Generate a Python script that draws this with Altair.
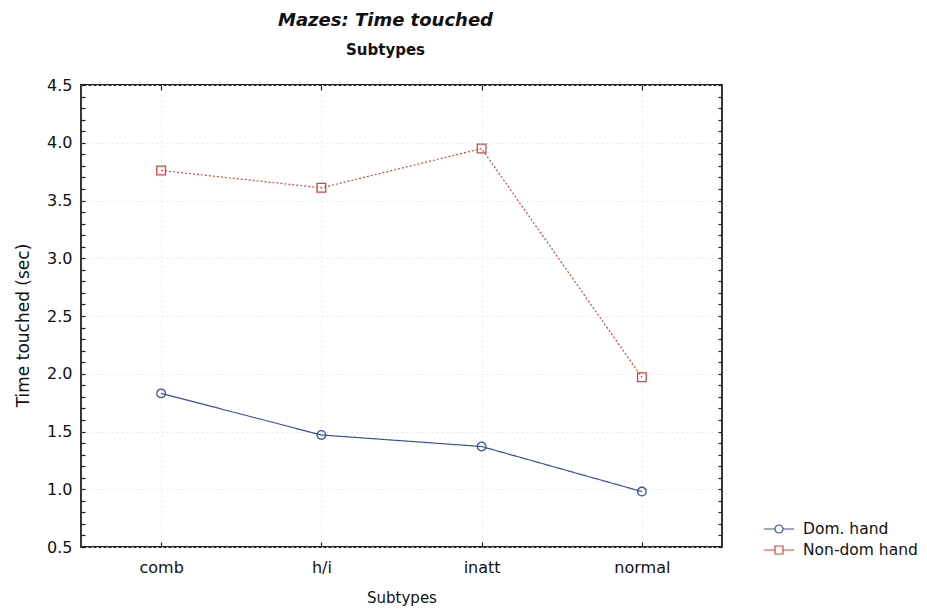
import altair as alt
import pandas as pd

# Mean time touched per subtype, for each hand
subtypes = ["comb", "h/i", "inatt", "normal"]
dom_hand = [1.83, 1.47, 1.37, 0.98]
nondom_hand = [3.76, 3.61, 3.95, 1.97]
series_names = ["Dom. hand", "Non-dom hand"]
series_colors = ["#3d4f9c", "#d4463c"]
y_major = [0.5, 1.0, 1.5, 2.0, 2.5, 3.0, 3.5, 4.0, 4.5]
y_minor = [round(0.5 + 0.1 * i, 1) for i in range(41)]

rows = []
for name, vals in zip(series_names, [dom_hand, nondom_hand]):
    for s, v in zip(subtypes, vals):
        rows.append({"subtype": s, "time": v, "hand": name})
df = pd.DataFrame(rows)

W, H = 641, 462
FONT = "DejaVu Sans"

x_scale = alt.Scale(domain=subtypes, padding=0.5)
y_scale = alt.Scale(domain=[0.5, 4.5], nice=False, zero=False)
color_scale = alt.Scale(domain=series_names, range=series_colors)

base = alt.Chart(df)

# Lines, with the labelled axes and the faint dotted grid
lines = base.mark_line(strokeWidth=1.2).encode(
    x=alt.X("subtype:N", scale=x_scale, sort=subtypes,
            axis=alt.Axis(title="Subtypes", labelAngle=0, ticks=False, tickSize=0,
                          domain=False, grid=True, labelPadding=12, titlePadding=15,
                          labelFontSize=16, titleFontSize=15)),
    y=alt.Y("time:Q", scale=y_scale,
            axis=alt.Axis(title="Time touched (sec)", values=y_major, format=".1f",
                          ticks=False, tickSize=0, domain=False, grid=True,
                          labelPadding=9, titlePadding=14, titleY=240,
                          labelFontSize=16, titleFontSize=17)),
    color=alt.Color("hand:N", scale=color_scale, legend=None),
    strokeDash=alt.StrokeDash("hand:N", scale=alt.Scale(domain=series_names,
                                                         range=[[1, 0], [2, 2]]),
                              legend=None),
)

# Open markers; axes here only draw inward ticks (bottom edge, left edge)
points = base.mark_point(filled=False, size=75, strokeWidth=1.3, opacity=1).encode(
    x=alt.X("subtype:N", scale=x_scale, sort=subtypes,
            axis=alt.Axis(orient="top", offset=-H, labels=False, domain=False,
                          grid=False, tickSize=5, title=None)),
    y=alt.Y("time:Q", scale=y_scale,
            axis=alt.Axis(orient="right", offset=-W, values=y_minor, labels=False,
                          domain=False, grid=False, tickSize=4, title=None)),
    color=alt.Color("hand:N", scale=color_scale, legend=None),
    shape=alt.Shape("hand:N", scale=alt.Scale(domain=series_names,
                                              range=["circle", "square"]),
                    legend=None),
)

# Legend entries (line through marker); axes draw the top and right inward ticks
legend_layer = base.transform_filter("false").mark_point(
    filled=False, opacity=1
).encode(
    x=alt.X("subtype:N", scale=x_scale, sort=subtypes,
            axis=alt.Axis(orient="bottom", offset=-H, labels=False, domain=False,
                          grid=False, tickSize=5, title=None)),
    y=alt.Y("time:Q", scale=y_scale,
            axis=alt.Axis(orient="left", offset=-W, values=y_minor, labels=False,
                          domain=False, grid=False, tickSize=4, title=None)),
    color=alt.Color("hand:N", scale=color_scale,
                    legend=alt.Legend(title=None, orient="none", legendX=689,
                                      legendY=435, symbolSize=256,
                                      symbolStrokeWidth=1.2, symbolOpacity=1,
                                      labelOffset=15, labelFontSize=15.5,
                                      rowPadding=3, labelColor="#111")),
    shape=alt.Shape("hand:N", scale=alt.Scale(
        domain=series_names,
        range=["M-1.9,0H-0.5M0.5,0H1.9M0.5,0A0.5,0.5,0,1,1,-0.5,0A0.5,0.5,0,1,1,0.5,0",
               "M-1.9,0H-0.5M0.5,0H1.9M-0.5,-0.5H0.5V0.5H-0.5Z"]),
        legend=alt.Legend(title=None, orient="none", legendX=689, legendY=435,
                          symbolSize=256)),
)

chart = alt.layer(lines, points, legend_layer).resolve_scale(
    color="independent", shape="independent", strokeDash="independent"
).resolve_axis(
    x="independent", y="independent"
).properties(
    width=W, height=H,
    autosize=alt.AutoSizeParams(type="none"),
    padding={"left": 81, "top": 85, "right": 205, "bottom": 68},
    title=alt.TitleParams(
        text="Mazes: Time touched", subtitle="Subtypes",
        font=FONT, fontSize=18, fontStyle="italic", fontWeight="bold", color="#111",
        subtitleFont=FONT, subtitleFontSize=15, subtitleFontWeight="bold",
        subtitleColor="#111", subtitlePadding=13, anchor="middle", offset=19,
        dx=-16,
    ),
).configure(
    background="white",
).configure_view(
    stroke="#222", strokeWidth=1.8,
).configure_axis(
    labelFont=FONT, titleFont=FONT, labelColor="#111", titleColor="#111",
    titleFontWeight="normal", tickColor="#222", tickWidth=1.2,
    gridColor="#e8e8e8", gridDash=[2, 3], gridWidth=1,
).configure_legend(
    labelFont=FONT,
)

chart.save("out.html", embed_options={"renderer": "svg", "actions": False})
